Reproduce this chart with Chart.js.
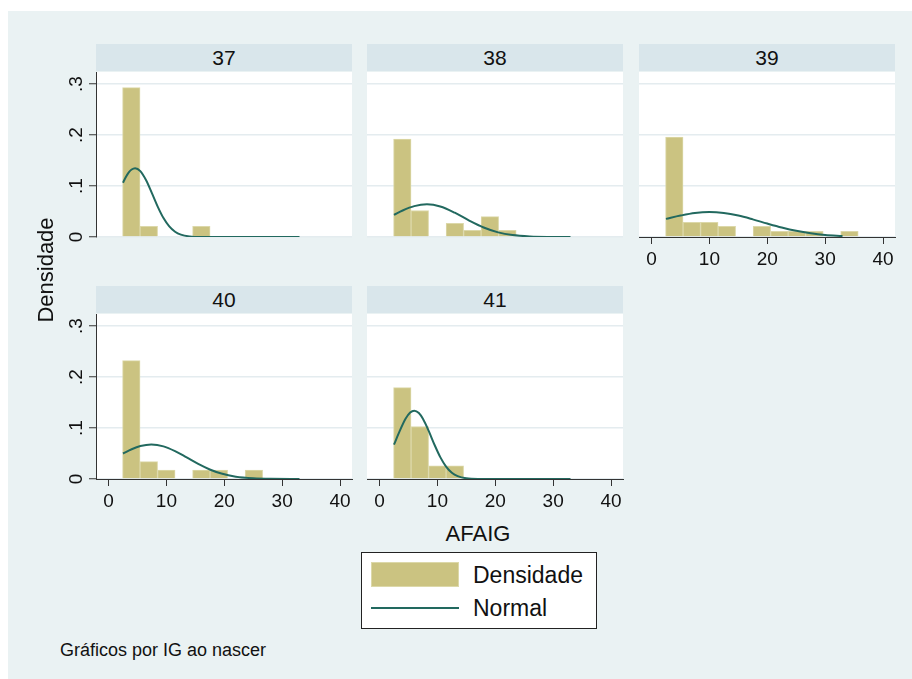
<!DOCTYPE html>
<html><head><meta charset="utf-8">
<script src="https://cdn.jsdelivr.net/npm/chart.js@4.4.0/dist/chart.umd.min.js"></script>
<style>
html,body{margin:0;padding:0;background:#fff;}
body{width:912px;height:679px;position:relative;overflow:hidden;font-family:"Liberation Sans",Arial,sans-serif;color:#111;}
#bg{position:absolute;left:8px;top:11px;right:0;bottom:0;background:#EAF2F3;}
.strip{position:absolute;background:#D9E6EB;height:27px;width:256px;text-align:center;line-height:27px;font-size:21px;color:#111;}
canvas{position:absolute;}
.txt{position:absolute;white-space:nowrap;line-height:normal;}
#legend{position:absolute;left:361px;top:552px;width:234px;height:75px;background:#fff;border:1px solid #222;}
</style>
</head><body>
<div id="bg"></div>
<script>
// ---------- data ----------
const categories = ['37', '38', '39', '40', '41'];
const binCenters = [3.94, 6.97, 9.99, 13.02, 16.04, 19.07, 22.1, 25.12, 28.15, 31.17, 34.2];
const xTicks = [0, 10, 20, 30, 40];
const yTicks = [0, 0.1, 0.2, 0.3];
const yTickLabels = ['0', '.1', '.2', '.3'];

const dens37 = [0.293, 0.021, 0, 0, 0.021, 0, 0, 0, 0, 0, 0];
const dens38 = [0.192, 0.052, 0, 0.027, 0.013, 0.040, 0.013, 0, 0, 0, 0];
const dens39 = [0.196, 0.029, 0.029, 0.021, 0, 0.021, 0.011, 0.011, 0.011, 0, 0.011];
const dens40 = [0.232, 0.034, 0.0175, 0, 0.0175, 0.0175, 0, 0.0175, 0, 0, 0];
const dens41 = [0.179, 0.103, 0.026, 0.026, 0, 0, 0, 0, 0, 0, 0];

const normX37 = [2.5, 3, 3.5, 4, 4.6, 5.5, 6.5, 7.5, 8.5, 9.5, 10.5, 11.5, 12.5, 14, 16, 20, 33];
const normY37 = [0.1065, 0.1176, 0.1265, 0.1324, 0.135, 0.1292, 0.1112, 0.0859, 0.0596, 0.0371, 0.0208, 0.0104, 0.0047, 0.0012, 0.0001, 0, 0];
const normX38 = [2.5, 4, 6, 8.2, 10.5, 13, 15.5, 18, 20.5, 23, 26, 29, 33];
const normY38 = [0.0435, 0.052, 0.0605, 0.064, 0.0598, 0.0476, 0.0322, 0.0186, 0.0091, 0.0038, 0.0011, 0.0002, 0];
const normX39 = [2.5, 5, 7.5, 10, 12.5, 15, 17.5, 20, 22.5, 25, 27.5, 30, 33];
const normY39 = [0.0355, 0.042, 0.0471, 0.049, 0.0471, 0.042, 0.0346, 0.0264, 0.0187, 0.0122, 0.0074, 0.0041, 0.0019];
const normX40 = [2.5, 4, 5.5, 7.4, 9.5, 11.5, 13.5, 15.5, 17.5, 19.5, 22, 25, 28, 33];
const normY40 = [0.050, 0.0584, 0.0646, 0.0676, 0.064, 0.0547, 0.0423, 0.0296, 0.0187, 0.0107, 0.0046, 0.0014, 0.0003, 0];
const normX41 = [2.5, 3.5, 4.5, 5.3, 6, 6.8, 7.5, 8.5, 9.5, 10.5, 11.5, 12.5, 13.5, 15, 17, 20, 33];
const normY41 = [0.0672, 0.0943, 0.118, 0.1304, 0.134, 0.1293, 0.118, 0.0943, 0.0672, 0.0429, 0.0244, 0.0124, 0.0056, 0.0014, 0.0001, 0, 0];

// ---------- style / layout ----------
const FONT = '"Liberation Sans", Arial, sans-serif';
const BAR = '#CBC381';
const BAR_EDGE = '#DCD8A9';
const CURVE = '#22695F';
const GRID = '#E4ECEF';
const AXIS = '#333333';
const X_MIN = -2.16, X_MAX = 42.07, Y_MAX = 0.3235;
const PW = 256, PH = 165, PADL = 60, PADT = 20, PADR = 20, XH = 40;
const colLeft = [96, 367, 639];
const rowTop = [72, 314];

const panels = [
  {cat: categories[0], r: 0, c: 0, yaxis: true,  xaxis: false, h: dens37, nx: normX37, ny: normY37},
  {cat: categories[1], r: 0, c: 1, yaxis: false, xaxis: false, h: dens38, nx: normX38, ny: normY38},
  {cat: categories[2], r: 0, c: 2, yaxis: false, xaxis: true,  h: dens39, nx: normX39, ny: normY39},
  {cat: categories[3], r: 1, c: 0, yaxis: true,  xaxis: true,  h: dens40, nx: normX40, ny: normY40},
  {cat: categories[4], r: 1, c: 1, yaxis: false, xaxis: true,  h: dens41, nx: normX41, ny: normY41}
];

const bgPlugin = {
  id: 'plotbg',
  beforeDraw(chart) {
    const a = chart.chartArea, ctx = chart.ctx;
    ctx.save(); ctx.fillStyle = '#ffffff';
    ctx.fillRect(a.left, a.top, a.right - a.left, a.bottom - a.top);
    ctx.restore();
  }
};
const yLabelPlugin = {
  id: 'ylabels',
  afterDraw(chart) {
    const s = chart.scales.y, ctx = chart.ctx;
    ctx.save();
    ctx.fillStyle = '#111';
    ctx.font = '19px ' + FONT;
    ctx.textAlign = 'center';
    ctx.textBaseline = 'alphabetic';
    yTicks.forEach((v, i) => {
      ctx.save();
      ctx.translate(chart.chartArea.left - 14, s.getPixelForValue(v));
      ctx.rotate(-Math.PI / 2);
      ctx.fillText(yTickLabels[i], 0, 0);
      ctx.restore();
    });
    ctx.restore();
  }
};

panels.forEach(p => {
  const left = colLeft[p.c], top = rowTop[p.r];
  const strip = document.createElement('div');
  strip.className = 'strip';
  strip.style.left = left + 'px';
  strip.style.top = (top - 28) + 'px';
  strip.textContent = p.cat;
  document.body.appendChild(strip);

  const cv = document.createElement('canvas');
  cv.width = PADL + PW + PADR; cv.height = PADT + PH + XH;
  cv.style.left = (left - PADL) + 'px';
  cv.style.top = (top - PADT) + 'px';
  document.body.appendChild(cv);

  new Chart(cv, {
    type: 'bar',
    data: {
      datasets: [
        {type: 'line', data: p.nx.map((x, i) => ({x: x, y: p.ny[i]})),
         borderColor: CURVE, borderWidth: 2, pointRadius: 0, fill: false,
         cubicInterpolationMode: 'monotone', order: 0},
        {type: 'bar', data: binCenters.map((x, i) => ({x: x, y: p.h[i] > 0 ? p.h[i] : null})),
         backgroundColor: BAR, borderColor: BAR_EDGE, borderWidth: 1, borderSkipped: 'start',
         barPercentage: 1, categoryPercentage: 1, order: 1}
      ]
    },
    options: {
      responsive: false, animation: false, events: [],
      layout: {padding: {top: PADT, right: PADR, left: 0, bottom: 0}},
      plugins: {legend: {display: false}, tooltip: {enabled: false}},
      scales: {
        x: {type: 'linear', min: X_MIN, max: X_MAX, bounds: 'data', offset: false,
            afterBuildTicks: s => { s.ticks = xTicks.map(v => ({value: v})); },
            afterFit: s => { s.height = XH; },
            grid: {display: p.xaxis, drawOnChartArea: false, drawTicks: true, tickLength: 7, tickColor: AXIS, tickWidth: 1, offset: false},
            border: {display: p.xaxis, color: AXIS, width: 1, z: 1},
            ticks: {display: p.xaxis, font: {family: FONT, size: 19}, color: '#111', padding: 4, maxRotation: 0, autoSkip: false}},
        y: {type: 'linear', min: 0, max: Y_MAX, bounds: 'data',
            afterBuildTicks: s => { s.ticks = yTicks.map(v => ({value: v})); },
            afterFit: s => { s.width = PADL; },
            grid: {color: GRID, lineWidth: 1.5, drawTicks: p.yaxis, tickLength: 7, tickColor: AXIS, tickWidth: 1},
            border: {display: p.yaxis, color: AXIS, width: 1, z: 1},
            ticks: {display: false}}
      }
    },
    plugins: p.yaxis ? [bgPlugin, yLabelPlugin] : [bgPlugin]
  });
});
</script>
<div class="txt" style="left:33px;top:370px;width:200px;text-align:center;font-size:22px;transform-origin:0 0;transform:rotate(-90deg);">Densidade</div>
<div class="txt" style="left:378px;top:521px;width:200px;text-align:center;font-size:22px;">AFAIG</div>
<div id="legend">
  <div style="position:absolute;left:9px;top:9px;width:86px;height:23px;background:#CBC381;border:1px solid #DCD8A9;"></div>
  <div style="position:absolute;left:9px;top:54px;width:88px;height:2px;background:#22695F;"></div>
  <div class="txt" style="left:111px;top:9px;font-size:23px;">Densidade</div>
  <div class="txt" style="left:111px;top:42px;font-size:23px;">Normal</div>
</div>
<div class="txt" style="left:60px;top:640px;font-size:18px;">Gráficos por IG ao nascer</div>
</body></html>
